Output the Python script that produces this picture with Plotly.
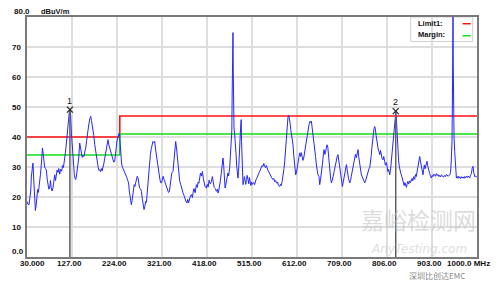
import plotly.graph_objects as go

# ---------------- data ----------------
freq_mhz = [30,32,34.3,36.5,38,39.5,41,42.9,44.5,46,48.1,49.5,51.6,53,54.5,56,57.4,59,61,62.5,63.2,64.5,66,68,70,71.8,73.5,75.3,77,78.9,
 80.5,82,84,86,87.8,89.7,91.5,93,95,96.8,98.5,100.5,102.5,104.8,106.5,108.5,110,111.3,113,114.9,116.5,118,119.5,121,122.5,124,125.7,127.5,129,130.7,
 132,133.5,135,136.5,138,139.9,141.5,143.6,145.5,147.3,149,150.8,152.9,154.5,156.5,158.5,160,161.5,163.5,165.5,167.3,169,170.5,172.3,174,176,177.8,179.6,181.5,183.5,
 185,186.7,188.5,190.5,192,193.8,195.5,197.5,199.6,201.5,203,204.6,206,208,210,211.9,213.5,215.5,217,219,221,222.5,224,225.5,227,228.5,229.8,231,232,234,
 236,238,240.6,242.5,244.5,247.1,249,250.5,252,253.5,255,256.5,258,259.5,261,262.5,264,265.5,267.5,269.3,271,272.5,274.5,276.6,278.5,280.5,282.2,284,285.5,287.4,
 289,290.5,292.5,294.5,296,298,299.9,301.5,303.5,305.3,307,309,310.5,312.4,314.5,316.5,318,319.7,321.5,323.5,325.5,326.8,328.5,330.5,332,333.3,335,337,338.5,340,
 342,344.7,346.5,348.5,350.5,352.5,354.8,357,359.2,361.5,363.5,366.3,368.5,370.5,372.5,374.9,376.5,378.5,380,382.5,384.4,386.5,388,390,392.5,395.1,397,399,400.5,402.3,
 404,406,408.1,410,412,414,416.7,418.5,420.5,422.5,425,427.5,429.5,431.5,433.5,436,438.3,440.5,442,443.5,445.4,447,448.5,450,451.5,452.5,454,455.5,457,458.3,
 460,461.5,463,464.5,466,466.9,468.3,469.5,470.6,471.5,472.3,473,473.5,474,474.6,475.3,476.2,477.7,479,480.5,482,483.5,484.8,486,487.5,488.8,489.8,490.8,491.7,492.5,
 493.5,494.5,495.6,497,498.5,500,501.5,503,504.5,506.4,508,509.5,511,512.5,514,515.5,517.2,519,520.5,522,524,526,527.9,529.5,531,533,535,536.5,538.7,540.5,
 542,544,546,547.5,549.5,551.5,553.5,555.5,557.5,560.3,562,564,566,568,570,572,574.7,576.5,578,580,582,584,585.5,587,588.5,590,591.5,592.5,594,595.5,
 596.8,598.5,600,601.5,603.4,605,606.5,608,609.2,611,612.5,614.5,616,617.8,619.5,621,622.5,624.9,626.5,628,630,632.3,634,636,638,640,641.5,643,644.5,646,
 648,650.2,652,653.5,655,657,659.4,660.9,662.5,664,665.5,667.5,669,670.5,672,673.5,675,676.7,678.5,680,681.5,683,684.5,686.2,688,690,692,693.3,695,697,
 698.5,700.4,702,703.5,705,707,709.9,711.5,713,715,716.5,718.5,720,721.5,723,725.6,727.5,729,731,733,734.5,736.4,738,740,741.5,743.5,745,746.5,748.5,750.8,
 752.5,754.5,756,757.9,759.5,761.5,763.5,765.5,767,768.7,770.5,772,773.5,775,776.5,778,779.5,781,782.5,784,785.5,787,788.8,790.5,792,793.5,795.5,797.4,799,801,
 802.5,804.7,806.5,808,809.5,811.8,813.5,815,816.5,818,819,820.5,822,823,824.8,826.3,827.5,828.5,829.7,831,832.5,834,835.5,837,838.5,840,841.5,843,844.5,846.3,
 848,849.5,851,852.5,854.9,856.5,858,860,861.5,863.5,865.7,867.5,869,870.5,872,873.5,875,876.5,878,879.5,881,882.5,883.6,885,886.5,888,889.5,891,892.2,893.5,
 895,896.5,898,899.5,901.7,903.5,905,906.5,908.8,910.5,912.5,914,916,918,919.6,921.5,923.5,925.5,927.5,930.4,932,934,936,938,941.2,943,944.5,945.5,946.1,947,
 947.8,948.3,948.8,949.6,950.5,951.9,953,954.5,955.6,957.5,959,960.5,962.7,964.5,966,968,970,972,973.5,975.5,977,979,981,983,984.3,986,988,989.5,991.4,993,
 995,997.2,1000]

level_dbuv = [18.5,17.6,17.4,19.5,22,27,30.5,31.3,26,19,15.5,17,19.7,22.5,21.5,24.5,25.5,27.5,31,34.5,36.3,35,32.5,30,29.5,29,26,24.7,22.6,23,
 25.5,23.2,22,23,26.5,27.4,25.5,27.5,29,28.2,29.5,27.6,29.2,28.6,30.5,29.8,31.2,31.9,35,38,41.5,44,46.5,48,49.1,47,41.3,37,33,30.2,
 27.5,26.2,25.8,27,28.8,29.2,33,38,36.2,34.7,33.2,33.8,33.5,35,36.3,38.8,41,42.4,44.5,46.1,46.9,45.5,43.8,43.5,40.5,37.5,35.2,33.5,31.2,29.8,
 28.9,29.1,28.4,29.5,28.7,29.6,31,32.8,34.7,37,38.5,39.1,37.6,36.5,35.3,34.7,33.6,32.8,31.6,31.9,33.8,36.5,38.7,39.7,40.5,41.3,40.2,36,32.4,31,
 29.8,29.2,28,27.4,26.8,25.5,24.7,22,20.5,18.2,17.4,18.8,20.5,22.8,24.1,23.5,24.8,25.6,26.9,26.4,24.5,23,22.8,21.9,19.5,17.2,15.8,16.8,18.5,18.2,
 21.5,25.5,28.9,31.9,34.2,36.2,37.6,38.5,38.1,38.5,36,33.6,31.9,29.5,27.4,25.9,24.8,24.7,25.6,26.9,25.8,25.1,24.2,23.4,22.6,22.3,21.5,21.9,23.8,25.9,
 28,28.5,32.5,36,38.5,36,31.2,27.4,25.2,24.1,22.6,21.3,20.5,19.4,18.6,18,19.2,18.1,19.4,20.5,20.8,19.8,21.5,22.8,21.4,24.1,23.2,25,24.6,26.8,
 28,27,28.5,26.2,24.8,23.4,23,24.2,23.3,25.6,24.4,25.2,26.8,24.5,23.2,22.8,21.9,22.6,21.3,22.3,23.8,25.5,27.6,29.8,32,33,30.5,26.5,23,23.8,
 25.9,26.5,28,27,28.5,29.8,33.5,36,38.5,42,55,64,69,74.8,62,47,43,40.8,38.5,34.5,30.2,27.8,26.3,28.5,32,37,41,44,45.8,38.5,
 30,26.5,24.1,25.2,26.8,25.5,24.2,25.8,27.2,25.8,24.4,26.5,24.8,23.8,25,24.2,24.6,24.8,24.1,25.4,25.9,26.5,27.4,27.6,28.4,29,29.6,30.5,30.2,31.2,
 30.4,29.8,30.5,29.2,28.8,28.3,27.5,27.2,26.4,25.8,26.2,25.1,25.5,24.6,25,23.9,23.5,24.2,23.8,25.2,27,29.5,31.9,35,38.8,42.5,44.8,46.5,47.2,46.3,
 45,42.5,41,39.5,37.4,33.8,30.5,28.5,27.4,28.3,29.4,31.6,33.2,34.7,33.5,34.8,33.2,32.2,33,34.6,36.2,38.5,40.2,42.5,44.2,45.2,44.8,45.3,43.5,41.5,
 39.5,37.4,33.5,31,29.5,27.5,26.8,24.1,25.5,27,29.8,32,34.6,35.8,34.2,34.8,36.2,37.4,36.5,33.8,30.2,28.5,26.2,24.7,25.5,26.8,28.5,29.6,30.8,32.6,
 33.4,34.1,32.5,30.8,28.2,26.5,23.5,24.8,26.4,28.2,29.6,30.8,29.2,27.4,26.2,24.7,25.5,26.9,28.6,30.5,31.8,33.5,34.2,33.1,35,35.8,33.5,31.6,29.2,27.4,
 26.8,25.9,25,24.7,25.2,26.5,27.2,28.1,29.4,29.7,31.5,33.8,36.5,39,41.2,42.8,43.5,42.6,40.5,38.8,37.2,36,35.2,34.1,35.5,33.6,32.8,32.4,33.5,31.8,
 30.6,31.5,29.8,28.5,29.2,27.4,28.8,31.5,33.8,36,37.4,40.5,44,46,48,46,42,37.5,34.1,32,30.2,28.5,28,27.4,26.3,25.5,24.6,23.8,24.8,24.1,
 23.2,24.5,25.2,24.3,25.4,24.8,25.6,26.2,25.4,26.8,25.9,27.5,26.8,28.4,29.5,31.2,32.4,33.5,32,30.5,29.1,28,27.4,29.2,30.6,29.4,30.8,31.4,31.9,30.5,
 29.2,28.6,27.8,27.1,26.3,27.2,26.8,27.6,27.4,26.9,27.8,27.2,27.5,26.8,27.2,26.7,27.4,27.1,26.6,27.2,26.8,27.5,27.2,26.9,27.4,28.2,32,36,38.5,52,
 64,82,64,48,40,35.2,31,27.8,26.3,26.8,26.2,26.9,26.5,26.1,26.8,26.3,26.7,26.2,26.8,26.4,26.9,26.5,27,26.6,26.3,27.2,27.8,29.5,30.2,28.2,
 26.8,27,26.5]

limit_freq = [30, 230, 230, 1000]
limit_level = [40, 40, 47, 47]
margin_level = [34, 34, 41, 41]

marker_ids = ["1", "2"]
marker_freq = [122.5, 824.8]
marker_level = [49.1, 48.6]

x_tick_vals = [30, 127, 224, 321, 418, 515, 612, 709, 806, 903]
x_tick_text = ["30.000", "127.00", "224.00", "321.00", "418.00", "515.00", "612.00", "709.00", "806.00", "903.00"]
x_end_text = "1000.0 MHz"
y_tick_vals = [0, 10, 20, 30, 40, 50, 60, 70, 80]
y_tick_text = ["0.0", "10", "20", "30", "40", "50", "60", "70", "80.0"]
y_unit = "dBuV/m"
legend_names = ["Limit1:", "Margin:"]
watermark_texts = ["嘉峪检测网", "AnyTesting.com", "深圳比创达EMC"]

# ---------------- figure ----------------
FONT = "Liberation Sans"
fig = go.Figure()

fig.add_trace(go.Scatter(x=limit_freq, y=limit_level, mode="lines",
                         line=dict(color="#ff1010", width=1.6), hoverinfo="skip"))
fig.add_trace(go.Scatter(x=limit_freq, y=margin_level, mode="lines",
                         line=dict(color="#10e010", width=1.6), hoverinfo="skip"))
fig.add_trace(go.Scatter(x=freq_mhz, y=level_dbuv, mode="lines",
                         line=dict(color="#2626ff", width=1)))

ann = []
for mid, mf, ml in zip(marker_ids, marker_freq, marker_level):
    fig.add_trace(go.Scatter(x=[mf, mf], y=[0, ml], mode="lines",
                             line=dict(color="#606060", width=1.5)))
    fig.add_trace(go.Scatter(x=[mf], y=[ml], mode="markers",
                             marker=dict(symbol="x-thin", size=6, color="#222",
                                         line=dict(color="#222", width=1.2))))
    ann.append(dict(x=mf, y=ml, xref="x", yref="y", text=mid, showarrow=False,
                    yanchor="bottom", yshift=2, font=dict(family=FONT, size=9, color="#111")))

# y labels (left aligned)
for v, t in zip(y_tick_vals, y_tick_text):
    shift = 6 if v in (0, 80) else 0
    ann.append(dict(x=0, y=v, xref="paper", yref="y", text="<b>%s</b>" % t, showarrow=False,
                    xanchor="left", yanchor="middle", xshift=-17 + (2 if v == 80 else 0), yshift=shift,
                    font=dict(family=FONT, size=8, color="#111")))
ann.append(dict(x=0, y=80, xref="paper", yref="y", text="<b>%s</b>" % y_unit, showarrow=False,
                xanchor="left", yanchor="middle", xshift=12, yshift=6,
                font=dict(family=FONT, size=7.5, color="#111")))
# x labels
for v, t in zip(x_tick_vals, x_tick_text):
    ann.append(dict(x=v, y=0, xref="x", yref="paper", text="<b>%s</b>" % t, showarrow=False,
                    xanchor="center", yanchor="top", xshift=(5 if v == 30 else -3), yshift=0,
                    font=dict(family=FONT, size=8, color="#111")))
ann.append(dict(x=1000, y=0, xref="x", yref="paper", text="<b>%s</b>" % x_end_text, showarrow=False,
                xanchor="right", yanchor="top", xshift=15,
                font=dict(family=FONT, size=8, color="#111")))
# legend box text
ann.append(dict(x=0.8653, y=0.972, xref="paper", yref="paper", text="<b>%s</b>" % legend_names[0],
                showarrow=False, xanchor="left", yanchor="middle", font=dict(family=FONT, size=7.5, color="#111")))
ann.append(dict(x=0.8653, y=0.925, xref="paper", yref="paper", text="<b>%s</b>" % legend_names[1],
                showarrow=False, xanchor="left", yanchor="middle", font=dict(family=FONT, size=7.5, color="#111")))
# watermark (kept inside plot / below labels to avoid covering tick text)
ann.append(dict(x=0.87, y=0.16, xref="paper", yref="paper", text=watermark_texts[0], showarrow=False,
                xanchor="center", yanchor="middle",
                font=dict(family="Noto Sans CJK SC", size=23, color="rgba(190,190,190,0.55)")))
ann.append(dict(x=0.87, y=0.035, xref="paper", yref="paper", text="<i>%s</i>" % watermark_texts[1], showarrow=False,
                xanchor="center", yanchor="middle",
                font=dict(family="DejaVu Sans", size=12, color="rgba(200,200,200,0.6)")))
ann.append(dict(x=0.91, y=-0.075, xref="paper", yref="paper", text=watermark_texts[2], showarrow=False,
                xanchor="center", yanchor="middle",
                font=dict(family="Noto Sans CJK SC", size=8, color="rgba(110,110,110,0.85)")))

shapes = [
    dict(type="rect", xref="paper", yref="paper", x0=0.8527, x1=0.9904, y0=0.898, y1=1.0,
         fillcolor="white", line=dict(color="#d0d0d0", width=1), layer="between"),
    dict(type="line", xref="paper", yref="paper", x0=0.968, x1=0.986, y0=0.972, y1=0.972,
         line=dict(color="#ff1010", width=1.5)),
    dict(type="line", xref="paper", yref="paper", x0=0.968, x1=0.986, y0=0.922, y1=0.922,
         line=dict(color="#10e010", width=1.5)),
]

fig.update_layout(
    width=500, height=282,
    margin=dict(l=27, r=23, t=17, b=25, pad=0),
    paper_bgcolor="white", plot_bgcolor="white",
    showlegend=False,
    annotations=ann, shapes=shapes,
    xaxis=dict(range=[30, 1000], tickvals=x_tick_vals, showticklabels=False, ticks="",
               showgrid=True, gridcolor="#dedede", gridwidth=1.5, zeroline=False,
               showline=True, linecolor="#7a7a7a", linewidth=2, mirror=True),
    yaxis=dict(range=[0, 80], tickvals=y_tick_vals, showticklabels=False, ticks="",
               showgrid=True, gridcolor="#dedede", gridwidth=1.5, zeroline=False,
               showline=True, linecolor="#7a7a7a", linewidth=2, mirror=True),
)

fig.write_html("out.html")
